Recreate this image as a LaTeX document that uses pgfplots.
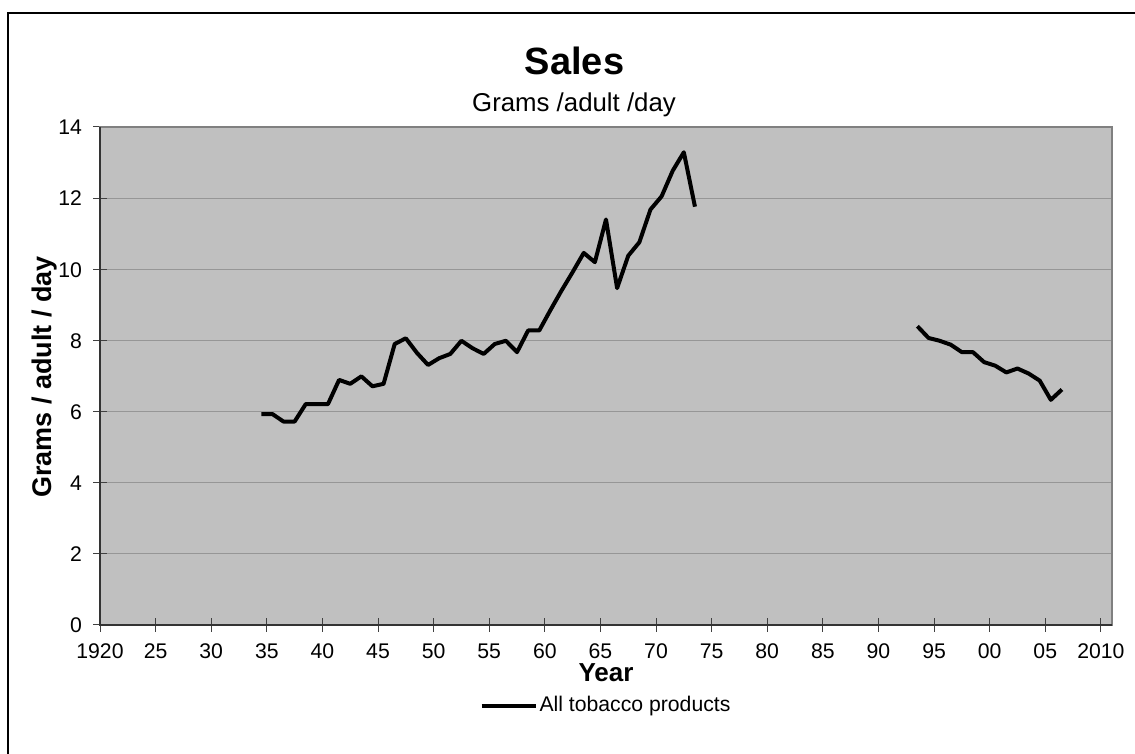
\documentclass[border=0pt]{standalone}
\usepackage{pgfplots}
\pgfplotsset{compat=1.18}
\usepackage{fontspec}
\setmainfont{Liberation Sans}
\definecolor{plotgray}{HTML}{C0C0C0}
\definecolor{gridgray}{HTML}{969696}
\definecolor{bordergray}{HTML}{808080}
\begin{document}
\begin{tikzpicture}[x=1pt,y=1pt]
\useasboundingbox (0,0) rectangle (567.5,377);
% outer frame (left and top edges visible)
\draw[black, line width=0.8pt] (4,-20) -- (4,370.5) -- (600,370.5);
\begin{axis}[
  at={(50pt,64.5pt)}, anchor=south west,
  scale only axis, width=506pt, height=249pt,
  xmin=1919.5, xmax=2010.5,
  ymin=0, ymax=14,
  xtick={1919.5,1924.5,1929.5,1934.5,1939.5,1944.5,1949.5,1954.5,1959.5,1964.5,1969.5,1974.5,1979.5,1984.5,1989.5,1994.5,1999.5,2004.5,2009.5},
  xticklabels={1920,25,30,35,40,45,50,55,60,65,70,75,80,85,90,95,00,05,2010},
  ytick={0,2,4,6,8,10,12,14},
  xtick pos=bottom, ytick pos=left,
  tick align=center,
  major tick length=7pt,
  tick style={black!75, line width=0.5pt},
  ymajorgrids,
  grid style={gridgray, line width=0.5pt},
  axis line style={bordergray, line width=0.6pt},
  axis background/.style={fill=plotgray},
  /pgf/number format/assume math mode=true,
  ticklabel style={font=\fontsize{10.6}{12}\selectfont, text height=7.8pt, text depth=0pt},
  xticklabel style={yshift=-4.5pt, inner ysep=1pt},
  yticklabel style={xshift=-2pt},
  unbounded coords=jump,
  legend style={at={(axis description cs:0.5,-0.162)}, anchor=center, draw=none, fill=none,
    font=\fontsize{10.6}{12}\selectfont, inner sep=0pt,
    nodes={inner xsep=1pt}},
  legend cell align=left,
  legend image code/.code={\draw[#1, line width=2pt] (0,0) -- (27pt,0);},
  clip=false,
]
\addplot[black, line width=2pt, line join=round] coordinates {
(1934,5.93) (1935,5.93) (1936,5.72) (1937,5.72) (1938,6.21) (1939,6.21)
(1940,6.21) (1941,6.89) (1942,6.78) (1943,6.99) (1944,6.71) (1945,6.78)
(1946,7.90) (1947,8.06) (1948,7.65) (1949,7.31) (1950,7.50) (1951,7.62)
(1952,7.99) (1953,7.78) (1954,7.62) (1955,7.90) (1956,7.99) (1957,7.67)
(1958,8.28) (1959,8.28) (1960,8.85) (1961,9.40) (1962,9.92) (1963,10.46)
(1964,10.20) (1965,11.40) (1966,9.47) (1967,10.38) (1968,10.76) (1969,11.68)
(1970,12.05) (1971,12.77) (1972,13.29) (1973,11.76)
(1974,nan)
(1993,8.40) (1994,8.07) (1995,7.99) (1996,7.88) (1997,7.67) (1998,7.67)
(1999,7.39) (2000,7.29) (2001,7.10) (2002,7.21) (2003,7.07) (2004,6.87)
(2005,6.33) (2006,6.62)
};
\addlegendentry{All tobacco products}
\draw[black!80, line width=0.8pt] (rel axis cs:0,1) -- (rel axis cs:0,0) -- (rel axis cs:1,0);
\end{axis}
\node[anchor=base, inner sep=1pt, font=\bfseries\fontsize{19}{22}\selectfont] at (287.25,339.5) {Sales};
\node[anchor=base, inner sep=1pt, font=\fontsize{12.9}{15}\selectfont] at (287,321.1) {Grams /adult /day};
\node[anchor=base, inner sep=1pt, font=\bfseries\fontsize{13}{15}\selectfont] at (303,36) {Year};
\node[rotate=90, font=\bfseries\fontsize{13.5}{15}\selectfont] at (22.5,188.5) {Grams / adult / day};
\end{tikzpicture}
\end{document}
